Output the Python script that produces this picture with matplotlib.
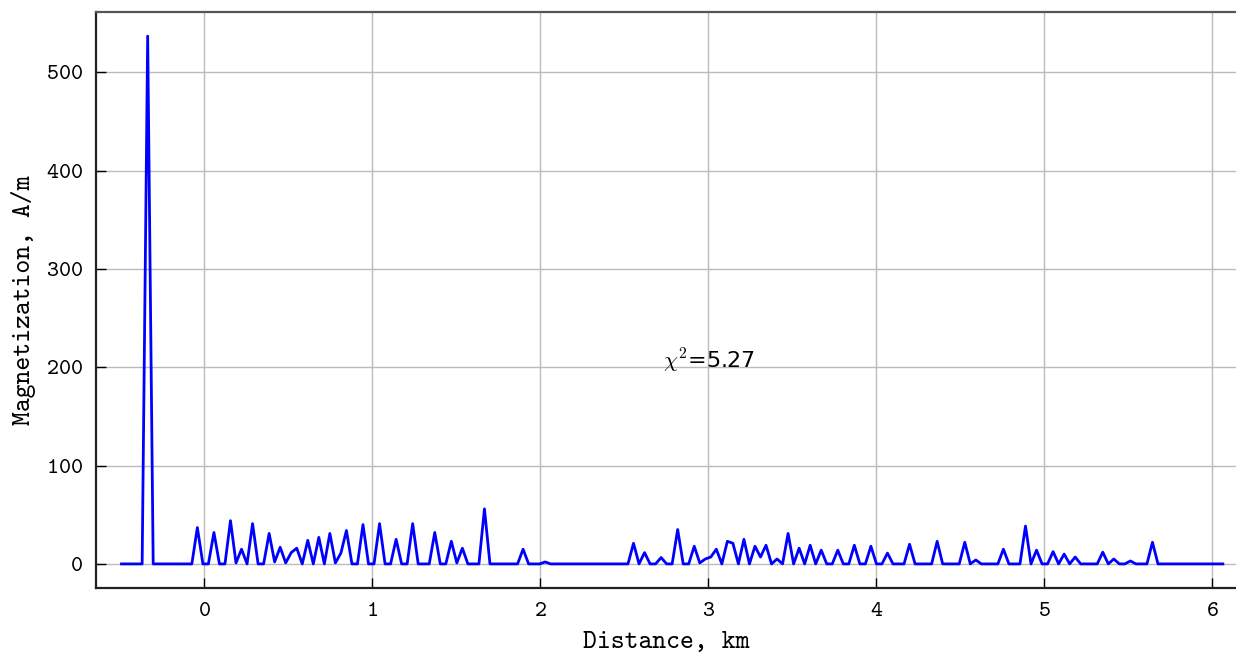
import numpy as np
import matplotlib
matplotlib.use("Agg")
import matplotlib.pyplot as plt

plt.rcParams['font.family'] = 'cmtt10'
plt.rcParams['axes.formatter.use_mathtext'] = True
plt.rcParams['mathtext.fontset'] = 'cm'

# magnetization of each cell along the profile (A/m)
magnetization = [
    0, 0, 0, 0, 0, 537, 0, 0, 0, 0,
    0, 0, 0, 0, 37, 0, 0, 32, 0, 0,
    44, 1, 15, 0, 41, 0, 0, 31, 2, 17,
    1, 11.5, 16, 0, 24, 0, 27, 0, 31, 1,
    11, 34, 0, 0, 40, 0, 0, 41, 0, 0,
    25, 0, 0, 41, 0, 0, 0, 32, 0, 0,
    23, 1, 16, 0, 0, 0, 56, 0, 0, 0,
    0, 0, 0, 15, 0, 0, 0, 2, 0, 0,
    0, 0, 0, 0, 0, 0, 0, 0, 0, 0,
    0, 0, 0, 21, 0, 11.5, 0, 0, 6.5, 0,
    0, 35, 0, 0, 18, 1, 5, 7, 15, 0,
    23, 21, 0, 25, 0, 18, 7, 19, 0, 5,
    0, 31, 0, 16, 0, 19, 0, 14, 0, 0,
    14, 0, 0, 19, 0, 0, 18, 0, 0, 11,
    0, 0, 0, 20, 0, 0, 0, 0, 23, 0,
    0, 0, 0, 22, 0, 4, 0, 0, 0, 0,
    15, 0, 0, 0, 38.5, 0, 14, 0, 0, 12.5,
    0, 10, 0, 7, 0, 0, 0, 0, 12, 0,
    5, 0, 0, 3, 0, 0, 0, 22, 0, 0,
    0, 0, 0, 0, 0, 0, 0, 0, 0, 0,
    0,
]
x_start = -0.5  # km
x_end = 6.07    # km
distance = np.linspace(x_start, x_end, len(magnetization))
chi2 = 5.27

fig = plt.figure(figsize=(12.36, 6.52), dpi=100)
ax = fig.add_axes([95.7/1236, 1-588/652, (1236-95.7)/1236, (588-12)/652])

ax.plot(distance, magnetization, color='#0000ff', lw=2, solid_capstyle='butt')
ax.text(3.0, 199, r'$\chi^2$=%.2f' % chi2, fontsize=16, ha='center', va='baseline',
        family='DejaVu Sans')

ax.set_xlim(-0.645, 6.14)
ax.set_ylim(-24.5, 561.5)
ax.set_xticks(range(0, 7))
ax.set_yticks(range(0, 501, 100))
ax.grid(color='#bbbbbb', lw=1)
ax.set_axisbelow(True)

ax.set_xlabel('Distance, km', fontsize=19, labelpad=7)
ax.set_ylabel('Magnetization, A/m', fontsize=19, labelpad=7)
ax.tick_params(direction='in', length=7, width=1, labelsize=16.5, pad=10)
ax.tick_params(axis='y', pad=9)

for s in ['left', 'bottom']:
    ax.spines[s].set_color('#222222')
    ax.spines[s].set_linewidth(1.6)
ax.spines['top'].set_color('#555555')
ax.spines['top'].set_linewidth(1.6)
ax.spines['right'].set_visible(False)

fig.savefig('out.png', dpi=100)
